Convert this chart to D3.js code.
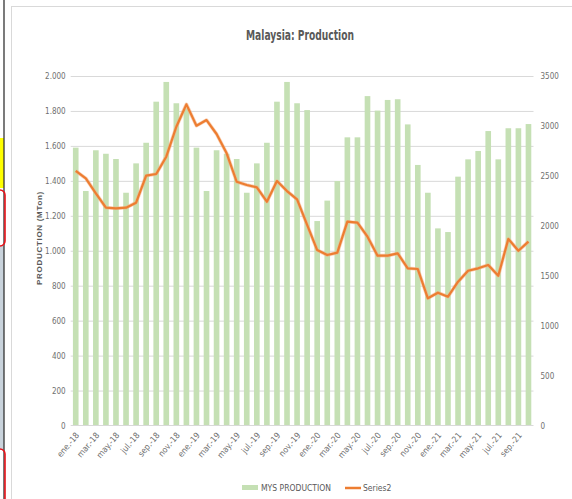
<!DOCTYPE html>
<html><head><meta charset="utf-8">
<script src="https://cdn.jsdelivr.net/npm/d3@7"></script>
<style>body{margin:0;background:#fff}svg{display:block}</style>
</head><body>
<svg id="c" width="572" height="499"></svg>
<script>
const months = [
  "ene.-18","feb.-18","mar.-18","abr.-18","may.-18","jun.-18","jul.-18","ago.-18","sep.-18","oct.-18","nov.-18","dic.-18",
  "ene.-19","feb.-19","mar.-19","abr.-19","may.-19","jun.-19","jul.-19","ago.-19","sep.-19","oct.-19","nov.-19","dic.-19",
  "ene.-20","feb.-20","mar.-20","abr.-20","may.-20","jun.-20","jul.-20","ago.-20","sep.-20","oct.-20","nov.-20","dic.-20",
  "ene.-21","feb.-21","mar.-21","abr.-21","may.-21","jun.-21","jul.-21","ago.-21","sep.-21","oct.-21"
];
const production = [
  1590,1342,1575,1555,1525,1332,1500,1618,1853,1966,1844,1815,
  1590,1342,1575,1555,1525,1332,1500,1618,1853,1966,1844,1805,
  1170,1287,1399,1649,1649,1885,1802,1863,1867,1723,1491,1332,
  1128,1107,1424,1523,1571,1685,1523,1701,1701,1725
];
const series2 = [
  2549,2475,2325,2181,2175,2181,2231,2502,2519,2692,2992,3216,
  3002,3059,2919,2726,2441,2408,2385,2241,2448,2348,2265,2010,
  1757,1707,1731,2041,2031,1891,1701,1701,1724,1574,1567,1274,
  1330,1290,1440,1550,1574,1607,1500,1868,1750,1841
];
const xTickLabels = ["ene.-18","mar.-18","may.-18","jul.-18","sep.-18","nov.-18",
  "ene.-19","mar.-19","may.-19","jul.-19","sep.-19","nov.-19",
  "ene.-20","mar.-20","may.-20","jul.-20","sep.-20","nov.-20",
  "ene.-21","mar.-21","may.-21","jul.-21","sep.-21"];
const leftTicks = [0,200,400,600,800,1000,1200,1400,1600,1800,2000];
const leftTickLabels = ["0","200","400","600","800","1.000","1.200","1.400","1.600","1.800","2.000"];
const rightTicks = [0,500,1000,1500,2000,2500,3000,3500];
const rightTickLabels = ["0","500","1000","1500","2000","2500","3000","3500"];
const title = "Malaysia: Production";
const yTitle = "PRODUCTION  (MTon)";
const legendNames = ["MYS PRODUCTION","Series2"];

const svg = d3.select("#c");
const condensed = "'Liberation Sans Narrow','DejaVu Sans Condensed','Roboto Condensed',sans-serif";
const grey = "#595959";
const tickGrey = "#6f6f6f";
const green = "#c5e0b4";
const orange = "#ed7d31";

// left strip decorations (spreadsheet edge)
svg.append("rect").attr("x",0).attr("y",138).attr("width",4).attr("height",50).attr("fill","#ffff00");
svg.append("rect").attr("x",0).attr("y",246).attr("width",4).attr("height",204).attr("fill","#c9d3dc");
svg.append("line").attr("x1",4).attr("x2",4).attr("y1",0).attr("y2",499).attr("stroke","#333").attr("stroke-width",1.3);
svg.append("rect").attr("x",-8).attr("y",190).attr("width",13).attr("height",56).attr("rx",5)
  .attr("fill","none").attr("stroke","#e8141b").attr("stroke-width",1.6);
svg.append("rect").attr("x",-8).attr("y",449).attr("width",13).attr("height",70).attr("rx",5)
  .attr("fill","none").attr("stroke","#e8141b").attr("stroke-width",1.6);
// chart border
svg.append("rect").attr("x",11.5).attr("y",6.5).attr("width",580).attr("height",520)
  .attr("fill","#fff").attr("stroke","#d9d9d9").attr("stroke-width",1);

const x0 = 70.7, x1 = 533.5, yb = 425.5, yt = 76;
const x = d3.scaleBand().domain(months).range([x0,x1]).paddingInner(0.44).paddingOuter(0.22);
const yL = d3.scaleLinear().domain([0,2000]).range([yb,yt]);
const yR = d3.scaleLinear().domain([0,3500]).range([yb,yt]);

// gridlines
const grid = svg.append("g").attr("transform",`translate(${x0},0)`)
  .call(d3.axisLeft(yL).tickValues(leftTicks.slice(1)).tickSize(-(x1-x0)).tickFormat(""));
grid.select(".domain").remove();
grid.selectAll("line").attr("stroke","#d9d9d9").attr("stroke-width",1);

// bars
svg.append("g").selectAll("rect").data(production).join("rect")
  .attr("x",(d,i)=>x(months[i])).attr("width",x.bandwidth())
  .attr("y",d=>yL(d)).attr("height",d=>yb-yL(d)).attr("fill",green);

// baseline
svg.append("line").attr("x1",x0).attr("x2",x1).attr("y1",yb).attr("y2",yb).attr("stroke","#d9d9d9").attr("stroke-width",1);

// line series
const line = d3.line().x((d,i)=>x(months[i])+x.bandwidth()/2).y(d=>yR(d));
svg.append("path").datum(series2).attr("d",line).attr("fill","none")
  .attr("stroke","#f4b183").attr("stroke-width",3.6).attr("stroke-linejoin","round").attr("opacity",0.6);
svg.append("path").datum(series2).attr("d",line).attr("fill","none")
  .attr("stroke",orange).attr("stroke-width",2.2).attr("stroke-linejoin","round");

// left axis
const ax = svg.append("g").attr("transform",`translate(${x0-5},0)`)
  .call(d3.axisLeft(yL).tickValues(leftTicks).tickSize(0).tickPadding(0).tickFormat((d,i)=>leftTickLabels[i]));
ax.select(".domain").remove();
ax.selectAll("text").attr("font-family",condensed).attr("font-size",8).attr("fill",tickGrey);

// right axis
const ar = svg.append("g").attr("transform",`translate(${x1+7},0)`)
  .call(d3.axisRight(yR).tickValues(rightTicks).tickSize(0).tickPadding(0).tickFormat((d,i)=>rightTickLabels[i]));
ar.select(".domain").remove();
ar.selectAll("text").attr("font-family",condensed).attr("font-size",8).attr("fill",tickGrey);

// x axis
const axb = svg.append("g").attr("transform",`translate(0,${yb})`)
  .call(d3.axisBottom(x).tickValues(xTickLabels).tickSize(0).tickPadding(0));
axb.select(".domain").remove();
axb.selectAll("text").attr("font-family",condensed).attr("font-size",8.5).attr("fill",tickGrey)
  .attr("text-anchor","end").attr("y",0).attr("dy",0)
  .attr("transform","translate(4,10) rotate(-50)");

// y title
svg.append("text").attr("transform","translate(42,238) rotate(-90)").attr("text-anchor","middle")
  .attr("font-family","'Liberation Sans',sans-serif").attr("font-weight","bold").attr("font-size",8)
  .attr("letter-spacing",0.7).attr("fill",grey).text(yTitle);

// title
svg.append("text").attr("x",300).attr("y",40).attr("text-anchor","middle")
  .attr("font-family",condensed).attr("font-weight","bold").attr("font-size",14)
  .attr("textLength",108).attr("lengthAdjust","spacingAndGlyphs")
  .attr("fill",grey).text(title);

// legend
const lg = svg.append("g").attr("font-family",condensed).attr("font-size",8.5).attr("fill",grey);
lg.append("rect").attr("x",242).attr("y",485).attr("width",16).attr("height",5).attr("fill",green);
lg.append("text").attr("x",261).attr("y",491).text(legendNames[0]);
lg.append("line").attr("x1",345).attr("x2",361).attr("y1",488).attr("y2",488).attr("stroke",orange).attr("stroke-width",2.5);
lg.append("text").attr("x",363).attr("y",491).text(legendNames[1]);
</script>
</body></html>
